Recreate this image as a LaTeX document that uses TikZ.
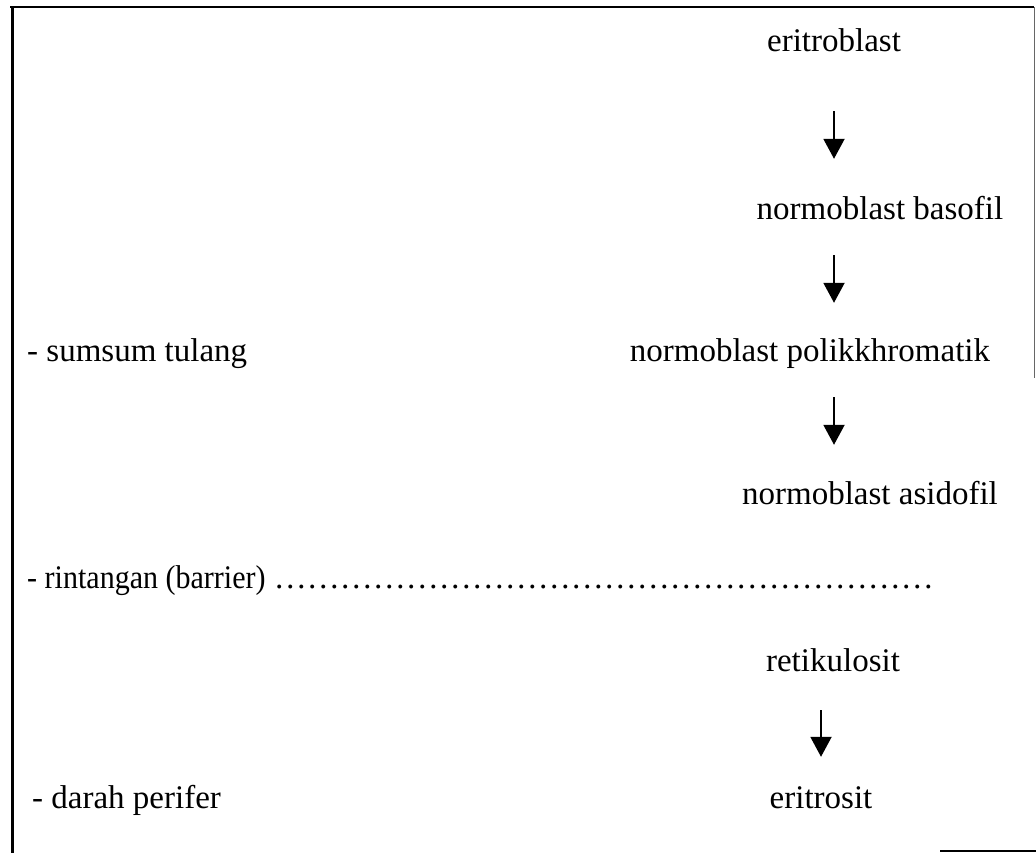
\documentclass[tikz,border=0pt]{standalone}
\usepackage{fontspec}
\usepackage{graphicx}
\setmainfont{Liberation Serif}
\usetikzlibrary{arrows.meta}
\tikzstyle{stage}=[anchor=base,inner sep=0pt,text height=24pt,text depth=8pt,font=\fontsize{33}{40}\selectfont]
\tikzstyle{site}=[stage,anchor=base west]
\tikzstyle{flow}=[line width=2pt,-{Triangle[width=21pt,length=20pt]}]
\begin{document}
\begin{tikzpicture}[x=1pt,y=-1pt]
    \useasboundingbox (0,0) rectangle (1036,853);
    % frame
    \draw[line width=2.5pt] (10,7) -- (1034,7);
    \draw[line width=3pt] (12,7) -- (12,853);
    \draw[line width=1pt,black!60] (1034,7) -- (1034,378);
    \draw[line width=2pt] (940,851) -- (1036,851);

    \node[stage] (n1) at (834,52)  {eritroblast};
    \node[stage] (n2) at (880,219) {normoblast basofil};
    \node[stage] (n3) at (810,361) {normoblast polikkhromatik};
    \node[stage] (n4) at (870,504) {normoblast asidofil};
    \node[stage] (n5) at (833,671) {retikulosit};
    \node[stage] (n6) at (821,808) {eritrosit};

    \node[site] (s1) at (27,361) {- sumsum tulang};
    \node[site] (s2) at (27,588) {\scalebox{0.91}[1]{- rintangan (barrier)} \foreach \i in {1,...,20}{\char"2026}};
    \node[site] (s3) at (32,808) {- darah perifer};

    \foreach \from/\to/\a/\b in {n1/n2/51/36,n2/n3/28/34,n3/n4/28/35}
    \draw[flow,shorten <=\a pt,shorten >=\b pt] (n1 |- \from.south) -- (n1 |- \to.north);
    \draw[flow,shorten <=31pt,shorten >=27pt] (n6 |- n5.south) -- (n6.north);
\end{tikzpicture}
\end{document}
